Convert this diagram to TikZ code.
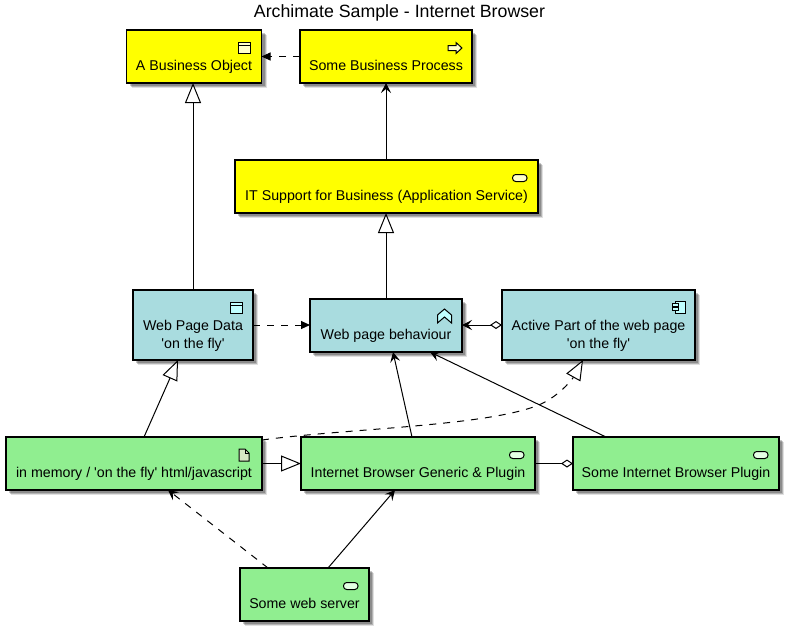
\documentclass[tikz,border=0pt]{standalone}
\usepackage{fontspec}
\setmainfont{Liberation Sans}
\usetikzlibrary{arrows.meta,calc,shadows}
\definecolor{biz}{HTML}{FFFF00}
\definecolor{app}{HTML}{A9DCDF}
\definecolor{tech}{HTML}{90EE90}
\definecolor{bizicon}{HTML}{FFFFC8}
\definecolor{appicon}{HTML}{C0FFFF}
\definecolor{techicon}{HTML}{E4FFE4}
\definecolor{docfill}{HTML}{D8E8C4}
\newcommand{\oneline}[1]{\raisebox{-13.5pt}[0pt][0pt]{#1}}
\newcommand{\twolines}[2]{\raisebox{-23pt}[0pt][0pt]{\begin{tabular}[b]{@{}c@{}}#1\\#2\end{tabular}}}
\tikzset{
  elem/.style={draw=black,line width=1.5pt,rectangle,inner sep=0pt,outer sep=0pt,
    font=\fontsize{14.2}{18}\selectfont,
    drop shadow={shadow xshift=3pt,shadow yshift=-3pt,fill=black,opacity=.22},
    drop shadow={shadow xshift=4pt,shadow yshift=-4pt,fill=black,opacity=.2},
    drop shadow={shadow xshift=5pt,shadow yshift=-5pt,fill=black,opacity=.12}},
  single/.style={minimum height=53pt},
  double/.style={minimum height=70pt},
  link/.style={line width=1pt,draw=black},
  dashlink/.style={link,dash pattern=on 7pt off 7pt},
  barb/.tip={Stealth[length=10pt,width=10pt,inset=4pt]},
  solidtip/.tip={Triangle[length=9pt,width=8pt]},
  hollow/.tip={Triangle[open,fill=white,length=20pt,width=16pt]},
  hollowdia/.tip={Diamond[open,fill=white,length=12pt,width=8pt]},
  icon/.style={draw=black,line width=1pt,line join=miter},
  objicon/.pic={
    \path[pic actions,icon] (-12,-5.3) rectangle (0,5.3);
    \draw[icon] (-12,-2.2) -- (0,-2.2);},
  svcicon/.pic={
    \path[pic actions,icon,rounded corners=3.2pt] (-14.5,-3.5) rectangle (0,3.5);},
  procicon/.pic={
    \path[pic actions,icon] (-14,-2.5) -- (-6,-2.5) -- (-6,-5.5) -- (0,0) -- (-6,5.5) -- (-6,2.5) -- (-14,2.5) -- cycle;},
  behicon/.pic={
    \path[pic actions,icon] (-7,-7) -- (0,-1) -- (0,7) -- (-7,1) -- (-14,7) -- (-14,-1) -- cycle;},
  compicon/.pic={
    \path[pic actions,icon] (-10,-6) rectangle (0,6);
    \path[pic actions,icon] (-13,-3.5) rectangle (-7,-0.5);
    \path[pic actions,icon] (-13,0.8) rectangle (-7,3.8);},
  docicon/.pic={
    \path[pic actions,icon] (-10,-6) -- (-4,-6) -- (0,-2) -- (0,6) -- (-10,6) -- cycle;
    \draw[icon] (-4,-6) -- (-4,-2) -- (0,-2);},
}
\begin{document}
\begin{tikzpicture}[x=1pt,y=-1pt]
\useasboundingbox (0,0) rectangle (789,630);
\node[font=\fontsize{17.75}{20}\selectfont] (title) at (399.5,13) {Archimate Sample - Internet Browser};

\node[elem,single,fill=biz,minimum width=135pt] (bobj) at (194,56.5) {\oneline{A Business Object}};
\node[elem,single,fill=biz,minimum width=172pt] (bproc) at (386,56.5) {\oneline{Some Business Process}};
\node[elem,single,fill=biz,minimum width=303pt] (itsup) at (386.5,186.5) {\oneline{IT Support for Business (Application Service)}};
\node[elem,double,fill=app,minimum width=120pt] (wdata) at (193,325) {\twolines{Web Page Data}{\textquotesingle on the fly\textquotesingle}};
\node[elem,single,fill=app,minimum width=152pt] (wbeh) at (386,325.5) {\oneline{Web page behaviour}};
\node[elem,double,fill=app,minimum width=193pt] (wact) at (598.5,325) {\twolines{Active Part of the web page}{\textquotesingle on the fly\textquotesingle}};
\node[elem,single,fill=tech,minimum width=256pt] (inmem) at (134,463.5) {\oneline{in memory / \textquotesingle on the fly\textquotesingle\ html/javascript}};
\node[elem,single,fill=tech,minimum width=234pt] (ibrow) at (418,463.5) {\oneline{Internet Browser Generic \& Plugin}};
\node[elem,single,fill=tech,minimum width=206pt] (iplug) at (676,463.5) {\oneline{Some Internet Browser Plugin}};
\node[elem,single,fill=tech,minimum width=129pt] (wserv) at (304.5,594.5) {\oneline{Some web server}};

% icons
\pic[fill=bizicon] at ($(bobj.north east)+(-11,18)$) {objicon};
\pic[fill=bizicon] at ($(bproc.north east)+(-10,18)$) {procicon};
\pic[fill=bizicon] at ($(itsup.north east)+(-11,18)$) {svcicon};
\pic[fill=appicon] at ($(wdata.north east)+(-10.5,18)$) {objicon};
\pic[fill=appicon] at ($(wbeh.north east)+(-10.5,17)$) {behicon};
\pic[fill=appicon] at ($(wact.north east)+(-10,17)$) {compicon};
\pic[fill=docfill] at ($(inmem.north east)+(-13,18)$) {docicon};
\pic[fill=techicon] at ($(ibrow.north east)+(-11,18)$) {svcicon};
\pic[fill=techicon] at ($(iplug.north east)+(-11,18)$) {svcicon};
\pic[fill=techicon] at ($(wserv.north east)+(-11,18)$) {svcicon};

% connectors
\draw[dashlink,-solidtip] (bproc.west) -- (bobj.east);
\draw[link,-barb] (itsup.north -| bproc.south) -- (bproc.south);
\draw[link,-hollow] (wdata.north) -- (wdata.north |- bobj.south);
\draw[link,-hollow] (wbeh.north) -- (wbeh.north |- itsup.south);
\draw[dashlink,-solidtip] (wdata.east) -- (wbeh.west |- wdata.east);
\draw[link,hollowdia-barb] (wact.west) -- (wbeh.east |- wact.west);
\draw[link,-hollow] ($(inmem.north)+(10,0)$) -- ($(wdata.south)+(-15,0)$);
\draw[dashlink,-hollow] ($(inmem.north east)+(0,3)$) .. controls (350,428) and (500,426) .. (545,402) .. controls (563,392) and (573,378) .. ($(wact.south)+(-15.5,0)$);
\draw[link,-hollow] (inmem.east) -- (ibrow.west);
\draw[link,-barb] ($(ibrow.north)+(-6,0)$) -- ($(wbeh.south)+(7,0)$);
\draw[link,-barb] ($(iplug.north)+(-70,0)$) -- ($(wbeh.south)+(44,0)$);
\draw[link,-hollowdia] (ibrow.east) -- (iplug.west);
\draw[link,-barb] ($(wserv.north)+(23.5,0)$) -- ($(ibrow.south)+(-23,0)$);
\draw[dashlink,-barb] ($(wserv.north)+(-36.5,0)$) -- ($(inmem.south)+(34,0)$);
\end{tikzpicture}
\end{document}
